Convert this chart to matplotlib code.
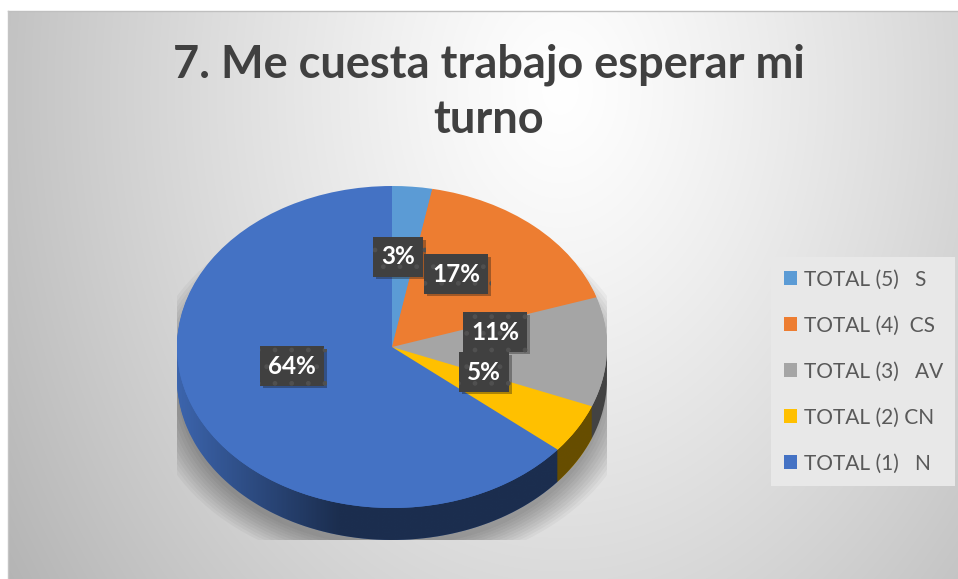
import numpy as np
import matplotlib
matplotlib.use("Agg")
import matplotlib.pyplot as plt
from matplotlib.path import Path
from matplotlib.patches import PathPatch, Ellipse
import matplotlib.patheffects as pe

plt.rcParams["font.family"] = ["Lato", "DejaVu Sans"]

# data, clockwise from 12 o'clock
labels = ["TOTAL (5)   S", "TOTAL (4)  CS", "TOTAL (3)   AV", "TOTAL (2) CN", "TOTAL (1)   N"]
values = [3, 17, 11, 5, 64]
colors = ["#5b9bd5", "#ed7d31", "#a5a5a5", "#ffc000", "#4472c4"]
title_lines = ["7. Me cuesta trabajo esperar mi", "turno"]

# where the data labels sit (pixels, from top left)
label_pos = [(398, 257), (456, 274), (495, 332), (484, 372), (292, 366)]

W, H = 958, 579
fig = plt.figure(figsize=(W / 100, H / 100), dpi=100)

# background: soft radial gradient
bg = fig.add_axes([0, 0, 1, 1], zorder=-5)
yy, xx = np.mgrid[0:H, 0:W]
d = np.sqrt(((xx - 560) / 600.0) ** 2 + ((yy - 90) / 800.0) ** 2)
v = np.clip(1 - 0.26 * d ** 1.2, 0, 1)
v[:11, :] = 1
v[:, :8] = 1
bg.imshow(np.dstack([v, v, v]), extent=(0, W, H, 0), aspect="auto", interpolation="bilinear")
bg.plot([8, W], [11, 11], color="#bfbfbf", lw=1)
bg.plot([8, 8], [11, H], color="#c4c4c4", lw=1)
bg.set_xlim(0, W)
bg.set_ylim(H, 0)
bg.axis("off")

# pie axes: unit circle squashed into the ellipse of the top face
cx, cy, a, b, thick = 392, 347, 215, 161, 32
t = thick / b
ax = fig.add_axes([(cx - a) / W, 1 - (cy + b + thick) / H, 2 * a / W, (2 * b + thick) / H])

# soft shadow under the pie
for k in range(10):
    s = 1.0 + 0.016 * k
    ax.add_artist(Ellipse((0, -t - 0.04), 2 * s, 2 * s, color="black", alpha=0.035, lw=0, zorder=0))

# side wall: stacked layers
n = 32
for i in range(n, 0, -1):
    w, _ = ax.pie(values, colors=colors, startangle=90, counterclock=False,
                  center=(0, -t * i / n), radius=1, wedgeprops=dict(linewidth=0))
    for p in w:
        p.set_zorder(1)

# shading of the side wall, lighter on the left
th = np.linspace(np.pi, 2 * np.pi, 200)
verts = np.concatenate([np.c_[np.cos(th), np.sin(th)], np.c_[np.cos(th[::-1]), np.sin(th[::-1]) - t]])
side = PathPatch(Path(verts), facecolor="none", edgecolor="none", transform=ax.transData)
ax.add_patch(side)
gx = np.linspace(-1, 1, 400)
alpha = np.clip(0.12 + (gx + 1) / 0.75 * 0.48, 0.12, 0.6)
shade = np.zeros((2, 400, 4))
shade[:, :, 3] = alpha
im = ax.imshow(shade, extent=(-1, 1, -1 - t, 1), aspect="auto", zorder=2, interpolation="bilinear")
im.set_clip_path(side)

# top face
wedges, _ = ax.pie(values, colors=colors, startangle=90, counterclock=False,
                   radius=1, wedgeprops=dict(linewidth=0))
for p in wedges:
    p.set_zorder(3)

ax.set_aspect("auto")
ax.set_xlim(-1, 1)
ax.set_ylim(-1 - t, 1)
ax.axis("off")

# title
fig.text(489 / W, 1 - 77 / H, title_lines[0], ha="center", va="baseline",
         fontsize=32.5, fontweight="bold", color="#404040")
fig.text(489 / W, 1 - 133 / H, title_lines[1], ha="center", va="baseline",
         fontsize=32.5, fontweight="bold", color="#404040")

# data labels
lab = fig.add_axes([0, 0, 1, 1], zorder=5)
lab.set_xlim(0, W)
lab.set_ylim(H, 0)
lab.axis("off")
for val, (x, y) in zip(values, label_pos):
    txt = lab.text(x, y, "%d%%" % val, ha="center", va="center", fontsize=17.5,
                   fontweight="bold", color="white",
                   bbox=dict(boxstyle="square,pad=0.33", facecolor="#404040",
                             edgecolor="#505050", linewidth=0, hatch="."))
    txt.get_bbox_patch().set_path_effects([pe.SimplePatchShadow(offset=(2, -2), alpha=0.35), pe.Normal()])

# legend
fig.legend(wedges, labels, loc="upper left", bbox_to_anchor=(771 / W, 1 - 257 / H),
           frameon=True, fancybox=False, facecolor="#e8e8e8", edgecolor="none", framealpha=1,
           fontsize=15, labelcolor="#595959", labelspacing=1.25, handlelength=0.67,
           handleheight=0.67, handletextpad=0.3, borderpad=0.6, borderaxespad=0)

fig.savefig("out.png", dpi=100)
